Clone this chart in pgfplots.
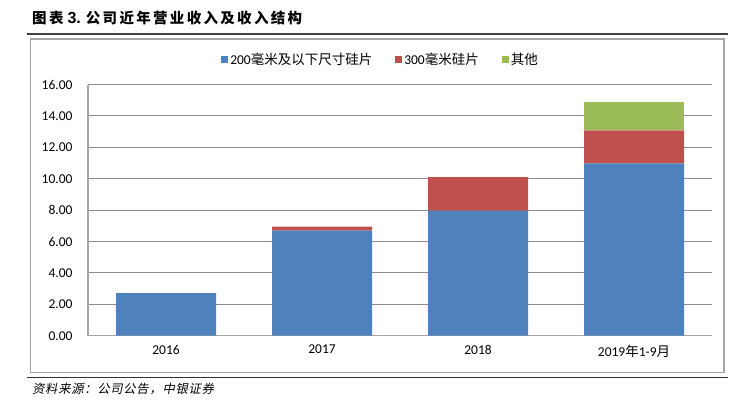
\documentclass[border=0pt]{standalone}
\usepackage{fontspec}
\setmainfont{Carlito}
\newfontfamily\cjk{Noto Sans CJK SC}
\newfontfamily\cjkt{Noto Sans CJK SC}[LetterSpace=16]
\newfontfamily\arialb{Liberation Sans}
\newfontfamily\cjki{Noto Sans CJK SC}[FakeSlant=0.2, LetterSpace=6]
\usepackage{pgfplots}
\pgfplotsset{compat=1.18}
\definecolor{cblue}{HTML}{4F81BD}
\definecolor{cred}{HTML}{C0504D}
\definecolor{cgreen}{HTML}{9BBB59}
\definecolor{gridc}{HTML}{8C8C8C}
\definecolor{boxc}{HTML}{A6A6A6}
\pgfplotstableread{
x a b c
0 2.71 0 0
1 6.69 0.26 0
2 7.96 2.14 0
3 10.97 2.11 1.82
}\datatab
\begin{document}
\begin{tikzpicture}[x=1pt,y=1pt]
\useasboundingbox (0,0) rectangle (747,416);
% title
\node[anchor=west,inner sep=0pt] at (32,398) {\cjkt\bfseries\fontsize{14.5}{16}\selectfont 图表\hspace{4pt}{\arialb\bfseries\fontsize{16}{16}\selectfont 3.}\hspace{5pt}公司近年营业收入及收入结构};
\draw[color=black!75,line width=1.5pt] (27,382) -- (728,382);
% outer box
\draw[color=boxc,line width=1.3pt] (30.7,377) rectangle (724,43.3);
\begin{axis}[
  at={(88pt,80.3pt)}, anchor=south west,
  scale only axis, width=624pt, height=251.2pt,
  xmin=-0.5, xmax=3.5, ymin=0, ymax=16,
  ybar stacked, bar width=100pt,
  xtick={0,1,2,3},
  xticklabels={2016,2017,2018,{2019{\cjk 年}1-9{\cjk 月}}},
  ytick={0,2,...,16},
  /pgf/number format/fixed,
  /pgf/number format/fixed zerofill,
  /pgf/number format/precision=2,
  /pgf/number format/assume math mode=true,
  tick label style={font=\fontsize{13.5}{16}\selectfont, text=black},
  yticklabel style={xshift=-12pt},
  xticklabel style={yshift=-6pt},
  major tick style={draw=none},
  ymajorgrids, grid style={color=gridc, line width=1.1pt},
  axis x line*=bottom, axis y line*=left,
  axis line style={color=boxc, line width=1.1pt, -},
  legend columns=3,
  legend style={at={(0.4688,1.1003)}, anchor=center, draw=none, fill=none,
    font=\fontsize{13.5}{16}\selectfont,
    /tikz/every even column/.append style={column sep=21pt},
    nodes={inner sep=2pt}},
  legend image code/.code={\fill[#1] (0pt,-3.5pt) rectangle (7pt,3.5pt);},
]
\addplot[fill=cblue, draw=none] table[x=x,y=a] {\datatab};
\addplot[fill=cred, draw=none] table[x=x,y=b] {\datatab};
\addplot[fill=cgreen, draw=none] table[x=x,y=c] {\datatab};
\legend{200{\cjk 毫米及以下尺寸硅片},300{\cjk 毫米硅片},{\cjk 其他}}
\end{axis}
\draw[color=black!80,line width=1.2pt] (27,38.3) -- (728,38.3);
\node[anchor=west,inner sep=0pt] at (32,27) {\cjki\fontsize{12.3}{14}\selectfont 资料来源：公司公告，中银证券};
\end{tikzpicture}
\end{document}
